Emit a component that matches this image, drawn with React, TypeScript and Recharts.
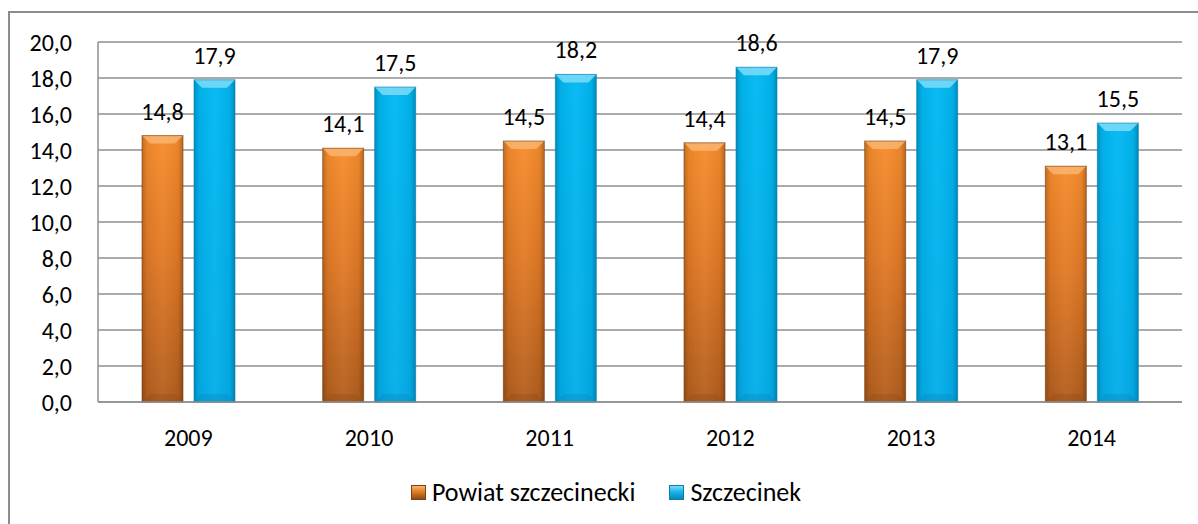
import { BarChart, Bar, XAxis, YAxis, CartesianGrid, LabelList, Legend } from "recharts";

const years = ["2009", "2010", "2011", "2012", "2013", "2014"];
const powiat = [14.8, 14.1, 14.5, 14.4, 14.5, 13.1];
const szczecinek = [17.9, 17.5, 18.2, 18.6, 17.9, 15.5];
const yTicks = [0, 2, 4, 6, 8, 10, 12, 14, 16, 18, 20];

const data = years.map((year, i) => ({
  year,
  powiat: powiat[i],
  szczecinek: szczecinek[i],
}));

const FONT = "Carlito, Calibri, Lato, sans-serif";
const FS = 24;

const palette: Record<string, { light: string; dark: string; edge: string; icon: string }> = {
  powiat: { light: "#f9b56e", dark: "#8e4a17", edge: "#7a3f12", icon: "#e07b24" },
  szczecinek: { light: "#7fdcfa", dark: "#0a86b8", edge: "#0a7fae", icon: "#18b4ea" },
};

const fmt = (v: number) => v.toFixed(1).replace(".", ",");

const BevelBar = (props: any) => {
  const { x, y, width, height, dataKey } = props;
  if (!height || height <= 0) return null;
  const pal = palette[dataKey];
  const b = Math.min(8, height / 2, width / 2);
  return (
    <g>
      <rect x={x} y={y} width={width} height={height} fill={`url(#grad-${dataKey})`} />
      <rect x={x} y={y} width={width} height={height} fill="url(#side-shade)" />
      <polygon
        points={`${x},${y} ${x + width},${y} ${x + width - b},${y + b} ${x + b},${y + b}`}
        fill={pal.light}
        opacity={0.85}
      />
      <polygon
        points={`${x},${y + height} ${x + width},${y + height} ${x + width - b},${y + height - b} ${x + b},${y + height - b}`}
        fill={pal.dark}
        opacity={0.35}
      />
      <rect x={x} y={y} width={width} height={height} fill="none" stroke={pal.edge} strokeWidth={1} strokeOpacity={0.6} />
    </g>
  );
};

const LegendBox = () => (
  <div
    style={{
      display: "flex",
      justifyContent: "center",
      alignItems: "center",
      gap: 34,
      fontFamily: FONT,
      fontSize: 26,
      color: "#000",
      paddingLeft: 14,
    }}
  >
    {[
      { key: "powiat", label: "Powiat szczecinecki" },
      { key: "szczecinek", label: "Szczecinek" },
    ].map((item) => (
      <div key={item.key} style={{ display: "flex", alignItems: "center", gap: 6 }}>
        <span
          style={{
            display: "inline-block",
            width: 15,
            height: 15,
            background: `linear-gradient(180deg, ${palette[item.key].light}, ${palette[item.key].icon} 45%, ${palette[item.key].dark})`,
            border: `1px solid ${palette[item.key].edge}`,
            boxSizing: "border-box",
          }}
        />
        <span>{item.label}</span>
      </div>
    ))}
  </div>
);

export default function App() {
  return (
    <div style={{ position: "fixed", left: 0, top: 0, width: 1198, height: 524, background: "#fff", overflow: "hidden" }}>
      <div
        style={{
          position: "absolute",
          left: 8,
          top: 11,
          width: 1240,
          height: 560,
          borderLeft: "2px solid #8c8c8c",
          borderTop: "2px solid #8c8c8c",
        }}
      />
      <div style={{ position: "absolute", left: 0, top: 0 }}>
        <BarChart
          width={1198}
          height={524}
          data={data}
          margin={{ top: 42, right: 16, bottom: 82, left: 0 }}
          barSize={41}
          barGap={11}
        >
          <defs>
            <linearGradient id="grad-powiat" x1="0" y1="0" x2="0" y2="1">
              <stop offset="0%" stopColor="#f68c2c" />
              <stop offset="45%" stopColor="#e27a26" />
              <stop offset="100%" stopColor="#b35e1e" />
            </linearGradient>
            <linearGradient id="grad-szczecinek" x1="0" y1="0" x2="0" y2="1">
              <stop offset="0%" stopColor="#00b8f2" />
              <stop offset="100%" stopColor="#03adea" />
            </linearGradient>
            <linearGradient id="side-shade" x1="0" y1="0" x2="1" y2="0">
              <stop offset="0%" stopColor="#000" stopOpacity={0.22} />
              <stop offset="12%" stopColor="#000" stopOpacity={0.05} />
              <stop offset="50%" stopColor="#fff" stopOpacity={0.04} />
              <stop offset="88%" stopColor="#000" stopOpacity={0.05} />
              <stop offset="100%" stopColor="#000" stopOpacity={0.25} />
            </linearGradient>
          </defs>
          <CartesianGrid vertical={false} stroke="#8f8f8f" strokeWidth={1.5} />
          <XAxis
            dataKey="year"
            tickLine={false}
            axisLine={{ stroke: "#8f8f8f", strokeWidth: 1.5 }}
            tickSize={0}
            tickMargin={27}
            height={40}
            tick={{ fill: "#000", fontSize: FS, fontFamily: FONT }}
          />
          <YAxis
            domain={[0, 20]}
            ticks={yTicks}
            interval={0}
            width={98}
            tickLine={false}
            axisLine={{ stroke: "#8f8f8f", strokeWidth: 1.5 }}
            tickSize={0}
            tickMargin={26}
            tickFormatter={fmt}
            tick={{ fill: "#000", fontSize: FS, fontFamily: FONT }}
          />
          <Legend
            layout="horizontal"
            verticalAlign="middle"
            align="center"
            wrapperStyle={{ top: 476, left: 0, width: 1198 }}
            content={() => <LegendBox />}
          />
          <Bar dataKey="powiat" name="Powiat szczecinecki" shape={<BevelBar />} isAnimationActive={false}>
            <LabelList dataKey="powiat" position="top" offset={16} formatter={(v: any) => fmt(Number(v))} fill="#000" fontSize={FS} fontFamily={FONT} />
          </Bar>
          <Bar dataKey="szczecinek" name="Szczecinek" shape={<BevelBar />} isAnimationActive={false}>
            <LabelList dataKey="szczecinek" position="top" offset={16} formatter={(v: any) => fmt(Number(v))} fill="#000" fontSize={FS} fontFamily={FONT} />
          </Bar>
        </BarChart>
      </div>
    </div>
  );
}
